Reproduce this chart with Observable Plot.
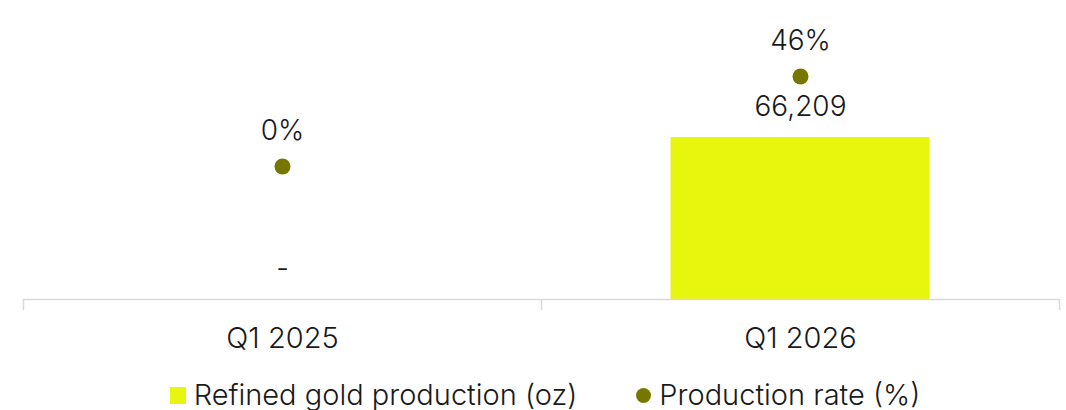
<!DOCTYPE html>
<html>
<head>
<meta charset="utf-8">
<script src="https://cdn.jsdelivr.net/npm/d3@7"></script>
<script src="https://cdn.jsdelivr.net/npm/@observablehq/plot@0.6"></script>
<style>
  html, body { margin: 0; padding: 0; background: #fff; }
  body { width: 1066px; height: 410px; overflow: hidden; font-family: Inter, "Noto Sans", sans-serif; font-weight: 300; }
  #wrap { position: relative; width: 1066px; height: 360px; }
  #wrap svg { position: absolute; left: 0; top: 0; }
  #legend { display: flex; justify-content: center; align-items: center; gap: 59px; font-size: 29px; font-weight: 300; color: #1a1a1a; margin-top: 20px; line-height: 30px; padding-left: 24px; }
  .item { display: flex; align-items: center; gap: 8px; }
  .sw { width: 16px; height: 17px; background: #E8F50C; }
  .dt { width: 15px; height: 15px; border-radius: 50%; background: #777700; }
</style>
</head>
<body>
<div id="wrap"></div>
<div id="legend">
  <div class="item"><span class="sw"></span><span>Refined gold production (oz)</span></div>
  <div class="item"><span class="dt"></span><span>Production rate (%)</span></div>
</div>
<script>
const categories = ["Q1 2025", "Q1 2026"];
const production = [0, 66209];
const productionLabels = ["-", "66,209"];
const rate = [0, 46];
const rateLabels = ["0%", "46%"];

const data = categories.map((c, i) => ({
  cat: c, i, prod: production[i], prodLabel: productionLabels[i], rate: rate[i], rateLabel: rateLabels[i]
}));

const W = 1066, H = 360;
const common = {
  width: W, height: H,
  marginLeft: 23, marginRight: 7, marginTop: 0, marginBottom: 61,
  style: { fontFamily: "Inter, 'Noto Sans', sans-serif", fontSize: "28px", fontWeight: 300, color: "#1a1a1a", background: "transparent", overflow: "visible" },
  x: { type: "linear", domain: [0, categories.length], axis: null }
};

const barPlot = Plot.plot({
  ...common,
  y: { domain: [0, 122200], axis: null },
  marks: [
    Plot.rectY(data, { x1: d => d.i, x2: d => d.i + 1, y: "prod", insetLeft: 129.5, insetRight: 129.5, fill: "#E8F50C" }),
    Plot.ruleY([0], { stroke: "#d9d9d9", strokeWidth: 1.5 }),
    Plot.axisX({ ticks: d3.range(categories.length + 1), tickFormat: () => "", tickSize: 11, stroke: "#d9d9d9", strokeWidth: 1.5 }),
    Plot.text(data, { x: d => d.i + 0.5, y: "prod", text: "prodLabel", dy: -30, fontSize: 28, fontWeight: 300, fill: "#1a1a1a" }),
    Plot.text(data, { x: d => d.i + 0.5, y: 0, text: "cat", dy: 39, fontSize: 29, fontWeight: 300, fill: "#1a1a1a" })
  ]
});

const dotPlot = Plot.plot({
  ...common,
  y: { domain: [-67.98, 84.84], axis: null },
  marks: [
    Plot.dot(data, { x: d => d.i + 0.5, y: "rate", r: 8, fill: "#777700" }),
    Plot.text(data, { x: d => d.i + 0.5, y: "rate", text: "rateLabel", dy: -35, fontSize: 28, fontWeight: 300, fill: "#1a1a1a" })
  ]
});

const wrap = document.getElementById("wrap");
wrap.appendChild(barPlot);
wrap.appendChild(dotPlot);
</script>
</body>
</html>
